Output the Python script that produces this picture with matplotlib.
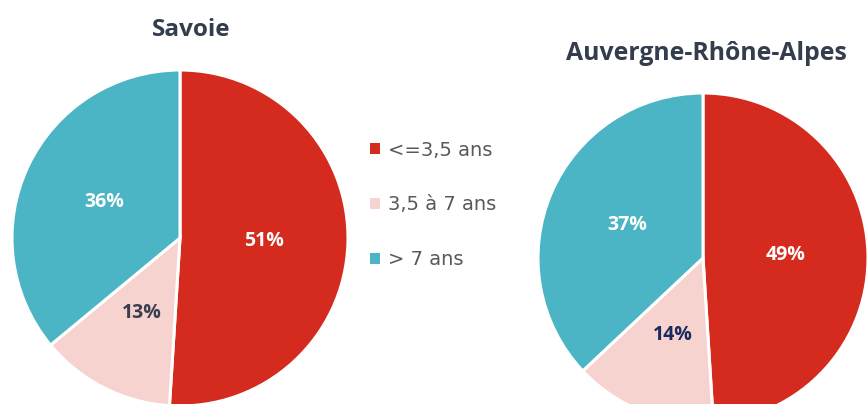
import matplotlib.pyplot as plt
from matplotlib.patches import Patch

# Données
categories = ["<=3,5 ans", "3,5 à 7 ans", "> 7 ans"]
savoie = [51, 13, 36]
aura = [49, 14, 37]
couleurs = ["#D52B1E", "#F7D3D0", "#4BB5C5"]

W, H = 867, 404
fig = plt.figure(figsize=(W / 100, H / 100), dpi=100)
ax = fig.add_axes([0, 0, 1, 1])

def camembert(valeurs, cx, cy, r, couleurs_labels):
    wedges, textes, autotextes = ax.pie(
        valeurs, colors=couleurs, startangle=90, counterclock=False,
        center=(cx, H - cy), radius=r, autopct="%d%%", pctdistance=0.5,
        wedgeprops=dict(edgecolor="white", linewidth=2.2),
        textprops=dict(fontsize=14, fontweight="bold", family="Open Sans"),
    )
    for t, c in zip(autotextes, couleurs_labels):
        t.set_color(c)
    return wedges

camembert(savoie, 180, 238, 168, ["white", "#3A3F4F", "white"])
camembert(aura, 703, 258, 165, ["white", "#1B2A5E", "white"])

ax.set_xlim(0, W)
ax.set_ylim(0, H)
ax.set_aspect("auto")
ax.axis("off")

ax.text(191, H - 30, "Savoie", ha="center", va="center", fontsize=17.5,
        fontweight="bold", color="#333D4D", family="Open Sans")
ax.text(706, H - 54, "Auvergne-Rhône-Alpes", ha="center", va="center", fontsize=17.8,
        fontweight="bold", color="#333D4D", family="Open Sans")

handles = [Patch(facecolor=c, edgecolor="none") for c in couleurs]
leg = ax.legend(handles, categories, loc="upper left", bbox_to_anchor=(352 / W, 1 - 123 / H),
                frameon=False, handlelength=0.55, handleheight=0.55, handletextpad=0.4,
                labelspacing=1.85, prop=dict(family="DejaVu Sans", size=14))
for t in leg.get_texts():
    t.set_color("#595959")

fig.savefig("out.png", dpi=100)
